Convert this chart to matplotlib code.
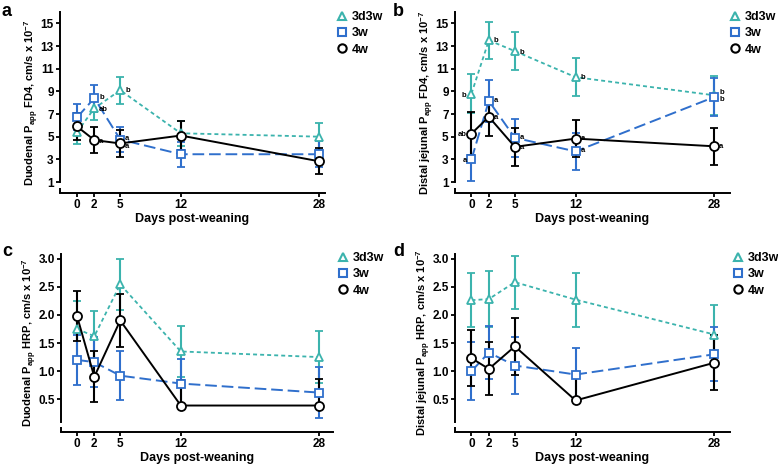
import matplotlib
matplotlib.use('Agg')
import matplotlib.pyplot as plt
from matplotlib.lines import Line2D

plt.rcParams['font.family'] = ['Liberation Sans', 'DejaVu Sans']
plt.rcParams['font.weight'] = 'bold'
plt.rcParams['mathtext.fontset'] = 'custom'
plt.rcParams['mathtext.rm'] = 'Liberation Sans:bold'
plt.rcParams['mathtext.bf'] = 'Liberation Sans:bold'
plt.rcParams['mathtext.default'] = 'bf'

# ---------------- data ----------------
days = [0, 2, 5, 12, 28]
groups = ['3d3w', '3w', '4w']

# a: Duodenal FD4
a_3d3w = [5.4, 7.5, 9.1, 5.3, 5.0]
a_3d3w_err = [1.05, 1.0, 1.2, 1.1, 1.2]
a_3w = [6.7, 8.4, 4.75, 3.45, 3.45]
a_3w_err = [1.15, 1.2, 1.1, 1.1, 1.15]
a_4w = [5.9, 4.7, 4.4, 5.1, 2.83]
a_4w_err = [1.15, 1.15, 1.2, 1.3, 1.13]

# b: Distal jejunal FD4
b_3d3w = [8.8, 13.5, 12.55, 10.25, 8.65]
b_3d3w_err = [1.7, 1.65, 1.65, 1.7, 1.7]
b_3w = [3.0, 8.15, 4.9, 3.7, 8.5]
b_3w_err = [1.95, 1.85, 1.7, 1.65, 1.65]
b_4w = [5.27, 6.75, 4.1, 4.83, 4.15]
b_4w_err = [1.9, 1.65, 1.65, 1.62, 1.62]

# c: Duodenal HRP
c_3d3w = [1.75, 1.62, 2.54, 1.35, 1.25]
c_3d3w_err = [0.5, 0.45, 0.45, 0.46, 0.46]
c_3w = [1.2, 1.16, 0.92, 0.78, 0.62]
c_3w_err = [0.45, 0.44, 0.44, 0.44, 0.45]
c_4w = [1.98, 0.9, 1.9, 0.39, 0.39]
c_4w_err = [0.44, 0.45, 0.47, 0.46, 0.47]
c_4w_err_low = [0.44, 0.45, 0.47, 0.0, 0.0]

# d: Distal jejunal HRP
d_3d3w = [2.26, 2.28, 2.58, 2.27, 1.65]
d_3d3w_err = [0.48, 0.5, 0.47, 0.48, 0.52]
d_3w = [1.0, 1.33, 1.1, 0.94, 1.3]
d_3w_err = [0.52, 0.47, 0.5, 0.48, 0.48]
d_4w = [1.23, 1.04, 1.44, 0.48, 1.15]
d_4w_err = [0.5, 0.47, 0.5, 0.47, 0.49]
d_4w_err_low = [0.5, 0.47, 0.5, 0.0, 0.49]

fd4_ticks = [1, 3, 5, 7, 9, 11, 13, 15]
hrp_ticks = [0.5, 1.0, 1.5, 2.0, 2.5, 3.0]
hrp_ticklabels = ['0.5', '1.0', '1.5', '2.0', '2.5', '3.0']

# significance letters: (day, y, text, side)
a_notes = [(2, 8.45, 'b', 'R'), (2, 7.4, 'ab', 'R'), (5, 9.05, 'b', 'R'),
           (2, 4.6, 'a', 'R'), (5, 4.85, 'a', 'R'), (5, 4.15, 'a', 'R')]
b_notes = [(0, 8.66, 'b', 'L'), (0, 5.2, 'ab', 'L'), (0, 2.9, 'a', 'L'),
           (2, 13.47, 'b', 'R'), (2, 8.16, 'a', 'R'), (2, 6.7, 'a', 'R'),
           (5, 12.4, 'b', 'R'), (5, 4.92, 'a', 'R'), (5, 4.04, 'a', 'R'),
           (12, 10.2, 'b', 'R'), (12, 4.83, 'a', 'R'), (12, 3.74, 'a', 'R'),
           (28, 8.87, 'b', 'R'), (28, 8.28, 'b', 'R'), (28, 4.1, 'a', 'R')]

# ---------------- style ----------------
TEAL = '#3bb3ad'
BLUE = '#2f6fcc'
BLACK = '#000000'
styles = {
    '3d3w': dict(color=TEAL, marker='^', ms=6, ls=(0, (2.2, 1.7)), lw=1.3),
    '3w': dict(color=BLUE, marker='s', ms=5.5, ls=(0, (6, 2.5)), lw=1.4),
    '4w': dict(color=BLACK, marker='o', ms=6.5, ls='-', lw=1.4),
}

W, H = 778, 466
fig = plt.figure(figsize=(W / 100, H / 100), dpi=100)


def add_axes_px(l, r, t, b):
    return fig.add_axes([l / W, 1 - b / H, (r - l) / W, (b - t) / H])


def draw(ax, series, xlim, ylim, ybounds, yticks, yticklabels, ylabel):
    for g, vals, lo, hi in series:
        st = styles[g]
        ax.errorbar(days, vals, yerr=[lo, hi], color=st['color'], ecolor=st['color'],
                    elinewidth=1.5, capsize=3.0, capthick=1.5,
                    marker=st['marker'], ms=st['ms'], mfc='white', mec=st['color'], mew=1.3,
                    ls=st['ls'], lw=st['lw'], clip_on=False)
    ax.set_xlim(*xlim)
    ax.set_ylim(*ylim)
    for s in ['top', 'right']:
        ax.spines[s].set_visible(False)
    for s in ['left', 'bottom']:
        ax.spines[s].set_linewidth(1.4)
    ax.spines['left'].set_bounds(*ybounds)
    ax.set_xticks(days)
    ax.set_xticklabels([str(d) for d in days])
    ax.set_yticks(yticks)
    ax.set_yticklabels(yticklabels)
    ax.tick_params(direction='out', length=3, width=1.3, labelsize=8.5, pad=1.5)
    for lab in ax.get_xticklabels() + ax.get_yticklabels():
        lab.set_fontweight('bold')
    ax.set_xlabel('Days post-weaning', fontsize=9, fontweight='bold', labelpad=1)
    ax.set_ylabel(ylabel, fontsize=8, fontweight='bold', labelpad=-0.5)
    ax.plot([0, 0], [0, 0.028], transform=ax.transAxes, color='black', lw=1.4,
            clip_on=False, solid_capstyle='butt')


def legend(ax, x, y):
    handles = [Line2D([], [], ls='none', marker=styles[g]['marker'], ms=6,
                      mfc='white', mec=styles[g]['color'], mew=1.5) for g in groups]
    ax.legend(handles, groups, loc='upper left', bbox_to_anchor=(x / W, 1 - y / H),
              bbox_transform=fig.transFigure, frameon=False,
              handlelength=0.9, handletextpad=0.35, labelspacing=0.35, borderpad=0,
              borderaxespad=0, prop={'weight': 'bold', 'size': 9})


def notes(ax, items):
    for d, y, t, side in items:
        if side == 'R':
            ax.annotate(t, (d, y), xytext=(3.5, 0), textcoords='offset points',
                        ha='left', va='center', fontsize=5.5, fontweight='bold')
        else:
            ax.annotate(t, (d, y), xytext=(-3.5, 0), textcoords='offset points',
                        ha='right', va='center', fontsize=5.5, fontweight='bold')


fd4_label_a = r'Duodenal P$_{app}$ FD4, cm/s x 10$^{-7}$'
fd4_label_b = r'Distal jejunal P$_{app}$ FD4, cm/s x 10$^{-7}$'
hrp_label_c = r'Duodenal P$_{app}$ HRP, cm/s x 10$^{-7}$'
hrp_label_d = r'Distal jejunal P$_{app}$ HRP, cm/s x 10$^{-7}$'

axa = add_axes_px(60, 325, 12, 193)
draw(axa, [('3d3w', a_3d3w, a_3d3w_err, a_3d3w_err), ('3w', a_3w, a_3w_err, a_3w_err),
           ('4w', a_4w, a_4w_err, a_4w_err)],
     (-1.97, 28.69), (0.03, 16.0), (1, 16.0), fd4_ticks, [str(t) for t in fd4_ticks], fd4_label_a)
notes(axa, a_notes)
legend(axa, 336, 11)

axb = add_axes_px(455, 730, 12, 193)
draw(axb, [('3d3w', b_3d3w, b_3d3w_err, b_3d3w_err), ('3w', b_3w, b_3w_err, b_3w_err),
           ('4w', b_4w, b_4w_err, b_4w_err)],
     (-1.9, 29.8), (0.03, 16.0), (1, 16.0), fd4_ticks, [str(t) for t in fd4_ticks], fd4_label_b)
notes(axb, b_notes)
legend(axb, 729, 11)

axc = add_axes_px(61, 333, 254, 432)
draw(axc, [('3d3w', c_3d3w, c_3d3w_err, c_3d3w_err), ('3w', c_3w, c_3w_err, c_3w_err),
           ('4w', c_4w, c_4w_err_low, c_4w_err)],
     (-1.85, 29.6), (-0.08, 3.08), (0.1, 3.08), hrp_ticks, hrp_ticklabels, hrp_label_c)
legend(axc, 337, 252)

axd = add_axes_px(455, 730, 254, 432)
draw(axd, [('3d3w', d_3d3w, d_3d3w_err, d_3d3w_err), ('3w', d_3w, d_3w_err, d_3w_err),
           ('4w', d_4w, d_4w_err_low, d_4w_err)],
     (-1.9, 29.8), (-0.08, 3.08), (0.1, 3.08), hrp_ticks, hrp_ticklabels, hrp_label_d)
legend(axd, 732, 252)

for lab, x, y in [('a', 2, 3), ('b', 393, 3), ('c', 2, 243), ('d', 393, 243)]:
    fig.text(x / W, 1 - y / H, lab, fontsize=13, fontweight='bold', ha='left', va='top')

fig.savefig('out.png', dpi=100)
